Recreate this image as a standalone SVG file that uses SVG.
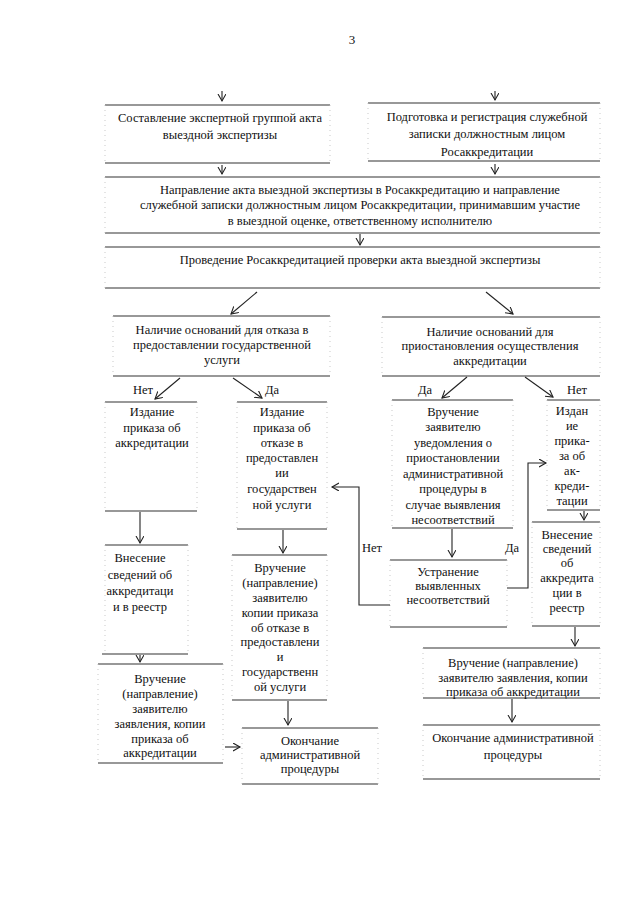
<svg xmlns="http://www.w3.org/2000/svg" width="640" height="905" viewBox="0 0 640 905">
<style>
  text { font-family: "Liberation Serif", "Times New Roman", serif; font-size: 12.5px; fill: #111; text-anchor: middle; }
  .h { stroke: #333; stroke-width: 1.2; fill: none; }
  .v { stroke: #bbb; stroke-width: 0.8; stroke-dasharray: 1 4; fill: none; }
  .c { stroke: #222; stroke-width: 1.1; fill: none; }
</style>
<defs>
  <marker id="ah" markerUnits="userSpaceOnUse" markerWidth="10" markerHeight="10" refX="7" refY="4" orient="auto">
    <path d="M0,0 L7,4 L0,8" fill="none" stroke="#222" stroke-width="1.1"/>
  </marker>
</defs>
<rect width="640" height="905" fill="#fff"/>
<text x="352" y="44" style="font-size:13px">3</text>

<g id="b1">
  <line class="h" x1="105" y1="105" x2="330" y2="105"/><line class="h" x1="105" y1="163" x2="330" y2="163"/>
  <line class="v" x1="105" y1="105" x2="105" y2="163"/><line class="v" x1="330" y1="105" x2="330" y2="163"/>
  <text x="220" y="122">Составление экспертной группой акта</text>
  <text x="220" y="139">выездной экспертизы</text>
</g>
<g id="b2">
  <line class="h" x1="368" y1="103" x2="600" y2="103"/><line class="h" x1="368" y1="161" x2="600" y2="161"/>
  <line class="v" x1="368" y1="103" x2="368" y2="161"/><line class="v" x1="600" y1="103" x2="600" y2="161"/>
  <text x="487" y="121">Подготовка и регистрация служебной</text>
  <text x="487" y="138">записки должностным лицом</text>
  <text x="487" y="156">Росаккредитации</text>
</g>
<g id="b3">
  <line class="h" x1="105" y1="177" x2="600" y2="177"/><line class="h" x1="105" y1="233" x2="600" y2="233"/>
  <line class="v" x1="105" y1="177" x2="105" y2="233"/><line class="v" x1="600" y1="177" x2="600" y2="233"/>
  <text x="360" y="194">Направление акта выездной экспертизы в Росаккредитацию и направление</text>
  <text x="360" y="209">служебной записки должностным лицом Росаккредитации, принимавшим участие</text>
  <text x="360" y="225">в выездной оценке, ответственному исполнителю</text>
</g>
<g id="b4">
  <line class="h" x1="105" y1="247" x2="600" y2="247"/><line class="h" x1="105" y1="288" x2="600" y2="288"/>
  <line class="v" x1="105" y1="247" x2="105" y2="288"/><line class="v" x1="600" y1="247" x2="600" y2="288"/>
  <text x="360" y="264">Проведение Росаккредитацией проверки акта выездной экспертизы</text>
</g>
<g id="b5">
  <line class="h" x1="113" y1="316" x2="330" y2="316"/><line class="h" x1="113" y1="376" x2="330" y2="376"/>
  <line class="v" x1="113" y1="316" x2="113" y2="376"/><line class="v" x1="330" y1="316" x2="330" y2="376"/>
  <text x="222" y="334">Наличие оснований для отказа в</text>
  <text x="222" y="349">предоставлении государственной</text>
  <text x="222" y="364">услуги</text>
</g>
<g id="b8">
  <line class="h" x1="382" y1="317" x2="600" y2="317"/><line class="h" x1="382" y1="376" x2="600" y2="376"/>
  <line class="v" x1="382" y1="317" x2="382" y2="376"/><line class="v" x1="600" y1="317" x2="600" y2="376"/>
  <text x="490" y="336">Наличие оснований для</text>
  <text x="490" y="350">приостановления осуществления</text>
  <text x="490" y="365">аккредитации</text>
</g>
<g id="b6">
  <line class="h" x1="105" y1="402" x2="197" y2="402"/><line class="h" x1="105" y1="511" x2="197" y2="511"/>
  <line class="v" x1="105" y1="402" x2="105" y2="511"/><line class="v" x1="197" y1="402" x2="197" y2="511"/>
  <text x="152" y="416">Издание</text>
  <text x="152" y="432">приказа об</text>
  <text x="152" y="447">аккредитации</text>
</g>
<g id="b7">
  <line class="h" x1="237" y1="402" x2="327" y2="402"/><line class="h" x1="237" y1="529" x2="327" y2="529"/>
  <line class="v" x1="237" y1="402" x2="237" y2="529"/><line class="v" x1="327" y1="402" x2="327" y2="529"/>
  <text x="282" y="416">Издание</text>
  <text x="282" y="432">приказа об</text>
  <text x="282" y="447">отказе в</text>
  <text x="282" y="462">предоставлен</text>
  <text x="282" y="477">ии</text>
  <text x="282" y="493">государствен</text>
  <text x="282" y="509">ной услуги</text>
</g>
<g id="b9">
  <line class="h" x1="392" y1="400" x2="513" y2="400"/><line class="h" x1="392" y1="528" x2="513" y2="528"/>
  <line class="v" x1="392" y1="400" x2="392" y2="528"/><line class="v" x1="513" y1="400" x2="513" y2="528"/>
  <text x="453" y="416">Вручение</text>
  <text x="453" y="431">заявителю</text>
  <text x="453" y="447">уведомления о</text>
  <text x="453" y="462">приостановлении</text>
  <text x="453" y="478">административной</text>
  <text x="453" y="493">процедуры в</text>
  <text x="453" y="509">случае выявления</text>
  <text x="453" y="524">несоответствий</text>
</g>
<g id="b10">
  <line class="h" x1="547" y1="400" x2="600" y2="400"/><line class="h" x1="547" y1="510" x2="600" y2="510"/>
  <line class="v" x1="547" y1="400" x2="547" y2="510"/><line class="v" x1="600" y1="400" x2="600" y2="510"/>
  <text x="572" y="415">Издан</text>
  <text x="572" y="430">ие</text>
  <text x="572" y="445">прика-</text>
  <text x="572" y="460">за об</text>
  <text x="572" y="475">ак-</text>
  <text x="572" y="490">креди-</text>
  <text x="572" y="505">тации</text>
</g>
<g id="b12">
  <line class="h" x1="105" y1="545" x2="188" y2="545"/><line class="h" x1="102" y1="654" x2="188" y2="654"/>
  <line class="v" x1="105" y1="545" x2="105" y2="654"/><line class="v" x1="188" y1="545" x2="188" y2="654"/>
  <text x="140" y="562">Внесение</text>
  <text x="140" y="579">сведений об</text>
  <text x="140" y="595">аккредитаци</text>
  <text x="140" y="611">и в реестр</text>
</g>
<g id="b13">
  <line class="h" x1="232" y1="555" x2="327" y2="555"/><line class="h" x1="232" y1="700" x2="327" y2="700"/>
  <line class="v" x1="232" y1="555" x2="232" y2="700"/><line class="v" x1="327" y1="555" x2="327" y2="700"/>
  <text x="280" y="572">Вручение</text>
  <text x="280" y="587">(направление)</text>
  <text x="280" y="602">заявителю</text>
  <text x="280" y="617">копии приказа</text>
  <text x="280" y="632">об отказе в</text>
  <text x="280" y="646">предоставлени</text>
  <text x="280" y="661">и</text>
  <text x="280" y="676">государственн</text>
  <text x="280" y="691">ой услуги</text>
</g>
<g id="b16">
  <line class="h" x1="390" y1="560" x2="507" y2="560"/><line class="h" x1="390" y1="627" x2="507" y2="627"/>
  <line class="v" x1="390" y1="560" x2="390" y2="627"/><line class="v" x1="507" y1="560" x2="507" y2="627"/>
  <text x="448" y="576">Устранение</text>
  <text x="448" y="590">выявленных</text>
  <text x="448" y="604">несоответствий</text>
</g>
<g id="b11">
  <line class="h" x1="532" y1="522" x2="600" y2="522"/><line class="h" x1="532" y1="626" x2="600" y2="626"/>
  <line class="v" x1="532" y1="522" x2="532" y2="626"/><line class="v" x1="600" y1="522" x2="600" y2="626"/>
  <text x="567" y="539">Внесение</text>
  <text x="567" y="553">сведений</text>
  <text x="567" y="567">об</text>
  <text x="567" y="582">аккредита</text>
  <text x="567" y="597">ции в</text>
  <text x="567" y="612">реестр</text>
</g>
<g id="b14">
  <line class="h" x1="98" y1="664" x2="223" y2="664"/><line class="h" x1="98" y1="763" x2="223" y2="763"/>
  <line class="v" x1="98" y1="664" x2="98" y2="763"/><line class="v" x1="223" y1="664" x2="223" y2="763"/>
  <text x="160" y="683">Вручение</text>
  <text x="160" y="698">(направление)</text>
  <text x="160" y="713">заявителю</text>
  <text x="160" y="728">заявления, копии</text>
  <text x="160" y="743">приказа об</text>
  <text x="160" y="757">аккредитации</text>
</g>
<g id="b15">
  <line class="h" x1="242" y1="728" x2="378" y2="728"/><line class="h" x1="242" y1="784" x2="378" y2="784"/>
  <line class="v" x1="242" y1="728" x2="242" y2="784"/><line class="v" x1="378" y1="728" x2="378" y2="784"/>
  <text x="310" y="745">Окончание</text>
  <text x="310" y="759">административной</text>
  <text x="310" y="773">процедуры</text>
</g>
<g id="b17">
  <line class="h" x1="423" y1="648" x2="600" y2="648"/><line class="h" x1="423" y1="698" x2="600" y2="698"/>
  <line class="v" x1="423" y1="648" x2="423" y2="698"/><line class="v" x1="600" y1="648" x2="600" y2="698"/>
  <text x="513" y="667">Вручение (направление)</text>
  <text x="513" y="682">заявителю заявления, копии</text>
  <text x="513" y="696">приказа об аккредитации</text>
</g>
<g id="b18">
  <line class="h" x1="423" y1="725" x2="600" y2="725"/><line class="h" x1="423" y1="779" x2="600" y2="779"/>
  <line class="v" x1="423" y1="725" x2="423" y2="779"/><line class="v" x1="600" y1="725" x2="600" y2="779"/>
  <text x="513" y="742">Окончание административной</text>
  <text x="513" y="759">процедуры</text>
</g>

<g id="connectors">
  <line class="c" x1="222" y1="91" x2="222" y2="101" marker-end="url(#ah)"/>
  <line class="c" x1="495" y1="91" x2="495" y2="100" marker-end="url(#ah)"/>
  <line class="c" x1="222" y1="165" x2="222" y2="174" marker-end="url(#ah)"/>
  <line class="c" x1="495" y1="164" x2="495" y2="174" marker-end="url(#ah)"/>
  <line class="c" x1="360" y1="234" x2="360" y2="245" marker-end="url(#ah)"/>
  <line class="c" x1="257" y1="292" x2="231" y2="314" marker-end="url(#ah)"/>
  <line class="c" x1="486" y1="292" x2="513" y2="314" marker-end="url(#ah)"/>
  <line class="c" x1="180" y1="378" x2="155" y2="399" marker-end="url(#ah)"/>
  <line class="c" x1="233" y1="378" x2="262" y2="398" marker-end="url(#ah)"/>
  <line class="c" x1="467" y1="377" x2="442" y2="398" marker-end="url(#ah)"/>
  <line class="c" x1="525" y1="377" x2="553" y2="397" marker-end="url(#ah)"/>
  <line class="c" x1="140" y1="512" x2="140" y2="543" marker-end="url(#ah)"/>
  <line class="c" x1="283" y1="530" x2="283" y2="553" marker-end="url(#ah)"/>
  <line class="c" x1="452" y1="529" x2="452" y2="557" marker-end="url(#ah)"/>
  <polyline class="c" points="390,605 359,605 359,487 332,487" marker-end="url(#ah)"/>
  <polyline class="c" points="507,588 528,588 528,463 546,463" marker-end="url(#ah)"/>
  <line class="c" x1="584" y1="511" x2="584" y2="520" marker-end="url(#ah)"/>
  <line class="c" x1="140" y1="655" x2="140" y2="662" marker-end="url(#ah)"/>
  <line class="c" x1="288" y1="701" x2="288" y2="725" marker-end="url(#ah)"/>
  <line class="c" x1="225" y1="747" x2="240" y2="747" marker-end="url(#ah)"/>
  <line class="c" x1="575" y1="627" x2="575" y2="646" marker-end="url(#ah)"/>
  <line class="c" x1="512" y1="699" x2="512" y2="722" marker-end="url(#ah)"/>
  <text x="143" y="394">Нет</text>
  <text x="272" y="394">Да</text>
  <text x="425" y="394">Да</text>
  <text x="577" y="394">Нет</text>
  <text x="372" y="552">Нет</text>
  <text x="512" y="552">Да</text>
</g>
</svg>
